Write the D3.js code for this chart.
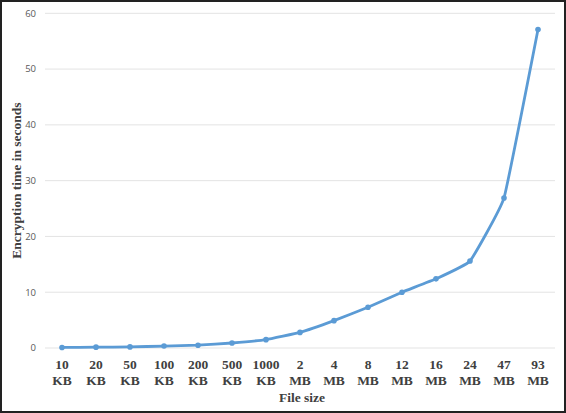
<!DOCTYPE html>
<html>
<head>
<meta charset="utf-8">
<script src="https://cdn.jsdelivr.net/npm/d3@7"></script>
<style>
  body { margin: 0; background: #fff; }
  svg { display: block; }
</style>
</head>
<body>
<svg id="chart" width="566" height="413"></svg>
<script>
"use strict";

// File sizes (two-line labels)
const sizes = ["10 KB", "20 KB", "50 KB", "100 KB", "200 KB", "500 KB", "1000 KB",
  "2 MB", "4 MB", "8 MB", "12 MB", "16 MB", "24 MB", "47 MB", "93 MB"];

// Encryption time in seconds
const times = [0.1, 0.15, 0.2, 0.35, 0.5, 0.9, 1.5, 2.8, 4.9, 7.3, 10.0, 12.4, 15.6, 26.9, 57.1];

const yTicks = [0, 10, 20, 30, 40, 50, 60];

const svg = d3.select("#chart");
const W = 566, H = 413;

// Outer frame
svg.append("rect")
    .attr("x", 1).attr("y", 1)
    .attr("width", W - 2).attr("height", H - 2)
    .attr("fill", "#fff")
    .attr("stroke", "#222")
    .attr("stroke-width", 2);

const x = d3.scaleBand()
    .domain(sizes)
    .range([45, 555]);

const y = d3.scaleLinear()
    .domain([0, 60])
    .range([348, 13.3]);

// Gridlines + y labels
const yAxis = svg.append("g");
yAxis.selectAll("line")
    .data(yTicks)
  .enter().append("line")
    .attr("x1", 45).attr("x2", 555)
    .attr("y1", d => y(d)).attr("y2", d => y(d))
    .attr("stroke", "#e3e3e3")
    .attr("stroke-width", 1);

yAxis.selectAll("text")
    .data(yTicks)
  .enter().append("text")
    .attr("x", 36)
    .attr("y", d => y(d))
    .attr("dy", "0.35em")
    .attr("text-anchor", "end")
    .attr("font-family", "'Open Sans', sans-serif")
    .attr("font-size", 9.5)
    .attr("fill", "#595959")
    .text(d => d);

// X labels
const xLab = svg.append("g")
    .attr("font-family", "'Liberation Serif', 'Times New Roman', serif")
    .attr("font-weight", "bold")
    .attr("font-size", 13.5)
    .attr("fill", "#404040")
    .attr("text-anchor", "middle");

sizes.forEach(s => {
  const parts = s.split(" ");
  const cx = x(s) + x.bandwidth() / 2;
  const t = xLab.append("text").attr("x", cx).attr("y", 369);
  t.append("tspan").attr("x", cx).text(parts[0]);
  t.append("tspan").attr("x", cx).attr("dy", 15.5).text(parts[1]);
});

// Axis titles
svg.append("text")
    .attr("x", 302).attr("y", 402)
    .attr("text-anchor", "middle")
    .attr("font-family", "'Liberation Serif', 'Times New Roman', serif")
    .attr("font-weight", "bold")
    .attr("font-size", 13.5)
    .attr("fill", "#404040")
    .text("File size");

svg.append("text")
    .attr("transform", "translate(21," + y(30) + ") rotate(-90)")
    .attr("text-anchor", "middle")
    .attr("font-family", "'Liberation Serif', 'Times New Roman', serif")
    .attr("font-weight", "bold")
    .attr("font-size", 13.5)
    .attr("fill", "#404040")
    .text("Encryption time in seconds");

// Series
const data = sizes.map((s, i) => ({size: s, time: times[i]}));

// Excel-style light smoothing
const line = d3.line()
    .x(d => x(d.size) + x.bandwidth() / 2)
    .y(d => y(d.time))
    .curve(d3.curveCardinal.tension(0.7));

svg.append("path")
    .datum(data)
    .attr("d", line)
    .attr("fill", "none")
    .attr("stroke", "#5b9bd5")
    .attr("stroke-width", 2.8)
    .attr("stroke-linejoin", "round");

svg.selectAll(".pt")
    .data(data)
  .enter().append("circle")
    .attr("class", "pt")
    .attr("cx", d => x(d.size) + x.bandwidth() / 2)
    .attr("cy", d => y(d.time))
    .attr("r", 2.8)
    .attr("fill", "#5b9bd5");
</script>
</body>
</html>
